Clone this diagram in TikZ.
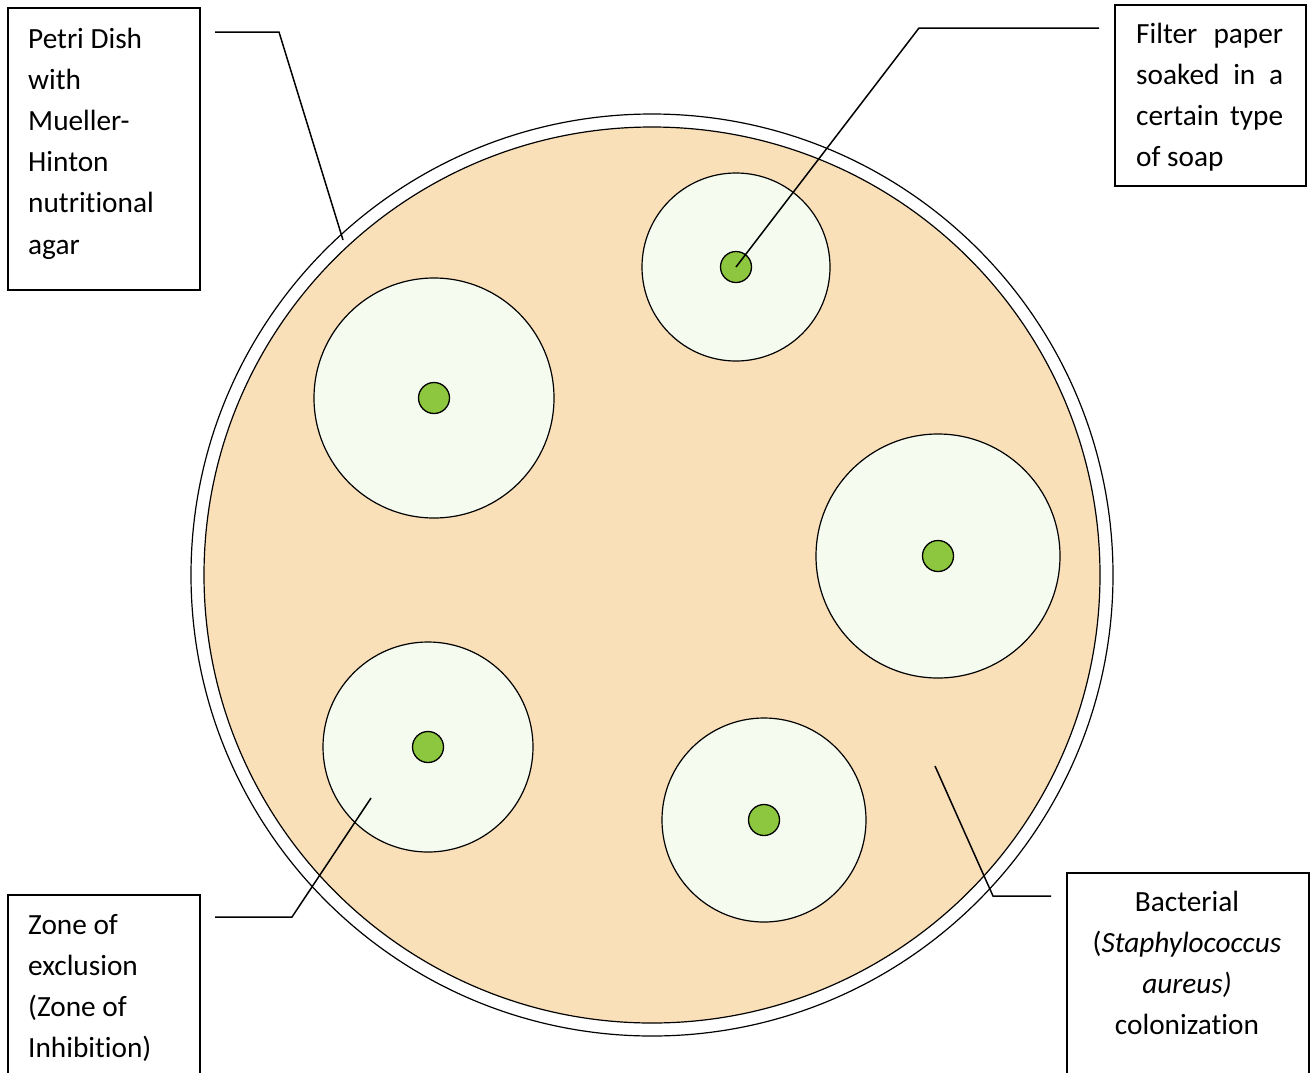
\documentclass[tikz,border=0pt]{standalone}
\usepackage{fontspec}
\setmainfont{Carlito}[Ligatures=CommonOff]
\definecolor{agar}{RGB}{250,224,185}
\definecolor{zonefill}{RGB}{245,251,238}
\definecolor{disc}{RGB}{141,198,63}
\begin{document}
\begin{tikzpicture}[x=1pt,y=-1pt,
  labelbox/.style={draw=black, line width=1.6pt, anchor=north west, inner sep=0pt},
  labeltext/.style={anchor=base west, inner sep=0pt, font=\fontsize{29.3}{41.2}\selectfont},
  zone/.style={circle, draw=black, line width=1.2pt, fill=zonefill, inner sep=0pt},
  soapdisc/.style={circle, draw=black, line width=1.3pt, fill=disc, inner sep=0pt, minimum size=31pt},
  leader/.style={draw=black, line width=1.5pt}]
\useasboundingbox (0,0) rectangle (1312,1072);
\clip (0,0) rectangle (1312,1072);
\fill[white] (0,0) rectangle (1312,1072);

% dish and agar
\node[circle, draw=black, line width=1.2pt, fill=white, inner sep=0pt, minimum size=922pt] (dish) at (652,575) {};
\node[circle, draw=black, line width=1.2pt, fill=agar, inner sep=0pt, minimum size=896pt] (agarlayer) at (652,575) {};

% zones of inhibition
\node[zone, minimum size=188pt] (z1) at (736,267) {};
\node[zone, minimum size=240pt] (z2) at (434,398) {};
\node[zone, minimum size=244pt] (z3) at (938,556) {};
\node[zone, minimum size=210pt] (z4) at (428,747) {};
\node[zone, minimum size=204pt] (z5) at (764,820) {};

% filter paper discs
\node[soapdisc] (d1) at (736,267) {};
\node[soapdisc] (d2) at (434,398) {};
\node[soapdisc] (d3) at (938,556) {};
\node[soapdisc] (d4) at (428,747) {};
\node[soapdisc] (d5) at (764,820) {};

% label boxes
\node[labelbox, minimum width=192pt, minimum height=282pt] (petribox) at (7,7) {};
\node[labelbox, minimum width=191pt, minimum height=181pt] (filterbox) at (1114,4) {};
\node[labelbox, minimum width=192pt, minimum height=200pt] (zonebox) at (7,894) {};
\node[labelbox, minimum width=242pt, minimum height=220pt] (bactbox) at (1066,872) {};

% label texts
\node[labeltext] (petritext) at (28,48) {\parbox[t]{165pt}{\raggedright Petri Dish\\with\\Mueller-\\Hinton\\nutritional\\agar}};
\node[labeltext] (filtertext) at (1136,43) {\parbox[t]{147pt}{\makebox[147pt][s]{Filter paper}\\\makebox[147pt][s]{soaked in a}\\\makebox[147pt][s]{certain type}\\of soap}};
\node[labeltext] (zonetext) at (28,934) {\parbox[t]{165pt}{\raggedright Zone of\\exclusion\\(Zone of\\Inhibition)}};
\node[labeltext, anchor=base] (bacttext) at (1187,911) {\parbox[t]{236pt}{\centering Bacterial\\(\textit{Staphylococcus}\\\textit{aureus)}\\colonization}};

% leader lines
\coordinate (pA) at (215,32);
\coordinate (pB) at (279,32);
\coordinate (pC) at (343,240);
\draw[leader] (pA) -- (pB) -- (pC);

\coordinate (fA) at (1099,28);
\coordinate (fB) at (919,28);
\draw[leader] (fA) -- (fB) -- (d1.center);

\coordinate (zA) at (215,917);
\coordinate (zB) at (292,917);
\coordinate (zC) at (371,798);
\draw[leader] (zA) -- (zB) -- (zC);

\coordinate (bA) at (1051,896);
\coordinate (bB) at (993,896);
\coordinate (bC) at (935,766);
\draw[leader] (bA) -- (bB) -- (bC);
\end{tikzpicture}
\end{document}
